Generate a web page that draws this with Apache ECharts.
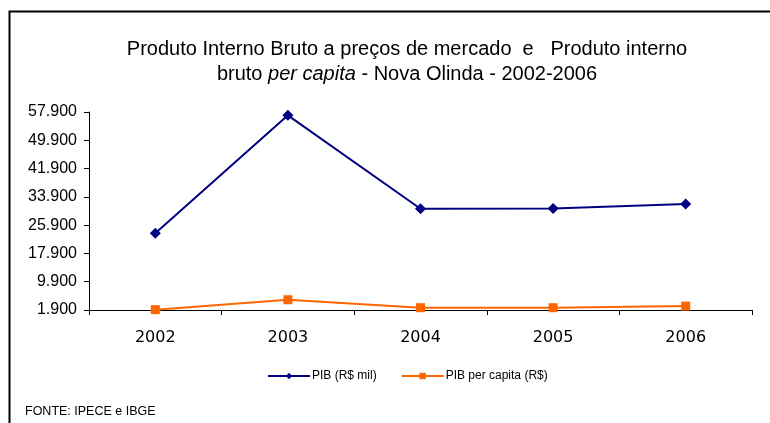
<!DOCTYPE html>
<html>
<head>
<meta charset="utf-8">
<script src="https://cdn.jsdelivr.net/npm/echarts@6/dist/echarts.min.js"></script>
<style>html,body{margin:0;padding:0;background:#fff;}#c{width:770px;height:423px;}</style>
</head>
<body>
<div id="c"></div>
<script>
const categories = ['2002', '2003', '2004', '2005', '2006'];
const pib = [23600, 56950, 30550, 30600, 31900];
const pibPerCapita = [2000, 4800, 2550, 2550, 3000];
const yTicks = [1900, 9900, 17900, 25900, 33900, 41900, 49900, 57900];

function fmt(v) {
  return String(Math.round(v)).replace(/\B(?=(\d{3})+(?!\d))/g, '.');
}

const chart = echarts.init(document.getElementById('c'), null, {renderer: 'canvas'});
chart.setOption({
  animation: false,
  backgroundColor: '#fff',
  title: {
    left: 402, top: 32, textAlign: 'center',
    text: 'Produto Interno Bruto a preços de mercado  e   Produto interno\n{n|bruto }{i|per capita}{n| - Nova Olinda - 2002-2006}',
    textStyle: {
      fontFamily: 'Liberation Sans', fontSize: 20, fontWeight: 'normal', color: '#000', lineHeight: 25,
      rich: {
        n: {fontFamily: 'Liberation Sans', fontSize: 20, color: '#000', lineHeight: 25},
        i: {fontFamily: 'Liberation Sans', fontSize: 20, fontStyle: 'italic', color: '#000', lineHeight: 25}
      }
    }
  },
  legend: {
    bottom: 36, left: 262, itemGap: 24, itemWidth: 42, itemHeight: 8,
    textStyle: {fontFamily: 'Liberation Sans', fontSize: 12, color: '#000', padding: [0, 0, 0, -3]},
    data: ['PIB (R$ mil)', 'PIB per capita (R$)']
  },
  grid: {left: 89, right: 18, top: 112, bottom: 113},
  xAxis: {
    type: 'category', data: categories, boundaryGap: true,
    axisLine: {lineStyle: {color: '#000', width: 1}},
    axisTick: {show: true, inside: false, length: 5, alignWithLabel: false, lineStyle: {color: '#000'}},
    axisLabel: {fontFamily: 'DejaVu Sans', fontSize: 16, color: '#000', margin: 20}
  },
  yAxis: {
    type: 'value', min: yTicks[0], max: yTicks[yTicks.length - 1], interval: yTicks[1] - yTicks[0],
    axisLine: {show: true, lineStyle: {color: '#000', width: 1}},
    axisTick: {show: true, length: 5, lineStyle: {color: '#000'}},
    splitLine: {show: false},
    axisLabel: {fontFamily: 'Liberation Sans', fontSize: 16, color: '#000', margin: 12, formatter: fmt}
  },
  series: [
    {
      name: 'PIB (R$ mil)', type: 'line', data: pib,
      color: '#000080',
      lineStyle: {color: '#000080', width: 2},
      itemStyle: {color: '#000080'},
      symbol: 'diamond', symbolSize: 11, showAllSymbol: true
    },
    {
      name: 'PIB per capita (R$)', type: 'line', data: pibPerCapita,
      color: '#FF6600',
      lineStyle: {color: '#FF6600', width: 2},
      itemStyle: {color: '#FF6600'},
      symbol: 'rect', symbolSize: 9, showAllSymbol: true
    }
  ],
  graphic: [
    {type: 'rect', shape: {x: 9.5, y: 11.5, width: 800, height: 450}, style: {fill: 'none', stroke: '#000', lineWidth: 2}, silent: true, z: -1},
    {type: 'text', left: 25, top: 405, style: {text: 'FONTE: IPECE e IBGE', fontFamily: 'Liberation Sans', fontSize: 12.5, fill: '#000'}}
  ]
});
</script>
</body>
</html>
